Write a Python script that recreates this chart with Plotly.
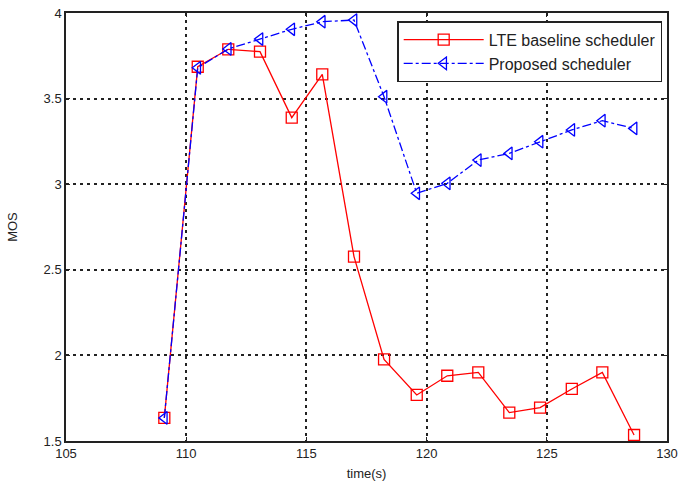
import plotly.graph_objects as go

time_s = [109.09, 110.48, 111.75, 113.07, 114.39, 115.66, 116.98, 118.23,
          119.59, 120.86, 122.15, 123.44, 124.72, 126.04, 127.31, 128.63]
lte_mos = [1.635, 3.686, 3.788, 3.774, 3.389, 3.642, 2.577, 1.977,
           1.769, 1.881, 1.901, 1.666, 1.695, 1.804, 1.901, 1.535]
proposed_mos = [1.635, 3.680, 3.790, 3.848, 3.905, 3.949, 3.959, 3.511,
                2.947, 3.005, 3.141, 3.180, 3.248, 3.317, 3.371, 3.326]

x_ticks = [105, 110, 115, 120, 125, 130]
y_ticks = [1.5, 2, 2.5, 3, 3.5, 4]

fig = go.Figure()
fig.add_trace(go.Scatter(
    x=time_s, y=lte_mos, mode="lines+markers", name="LTE baseline scheduler",
    line=dict(color="#ff0000", width=1.3),
    marker=dict(symbol="square-open", size=11, color="#ff0000", line=dict(width=1.3)),
))
fig.add_trace(go.Scatter(
    x=time_s, y=proposed_mos, mode="lines+markers", name="Proposed scheduler",
    line=dict(color="#0000ff", width=1.3, dash="dashdot"),
    marker=dict(symbol="triangle-left-open", size=11, color="#0000ff", line=dict(width=1.3)),
))

axis_common = dict(
    showline=True, linecolor="#222222", linewidth=1.5, mirror="ticks",
    ticks="inside", ticklen=4, tickcolor="#222222",
    showgrid=True, gridcolor="#222222", gridwidth=1.5, griddash="3px,4px",
    zeroline=False, automargin=False,
    tickfont=dict(family="Liberation Sans, Arial", size=13, color="#222222"),
)

fig.update_layout(
    width=680, height=487,
    margin=dict(l=66, r=13, t=13, b=46),
    paper_bgcolor="white", plot_bgcolor="white",
    font=dict(family="Liberation Sans, Arial", size=13, color="#222222"),
    xaxis=dict(range=[105, 130], tickvals=x_ticks, **axis_common,
               title=dict(text="time(s)", standoff=9, font=dict(size=13))),
    yaxis=dict(range=[1.5, 4], tickvals=y_ticks, ticktext=["1.5", "2", "2.5", "3", "3.5", "4"],
               **axis_common,
               title=dict(text="MOS", standoff=23, font=dict(size=13))),
    legend=dict(x=0.992, y=0.981, xanchor="right", yanchor="top",
                bgcolor="white", bordercolor="#222222", borderwidth=1.5,
                font=dict(size=16), itemwidth=80, tracegroupgap=0),
    showlegend=True,
)

fig.write_html("out.html", config={"displayModeBar": False},
               post_script="document.body.style.margin='0';")
